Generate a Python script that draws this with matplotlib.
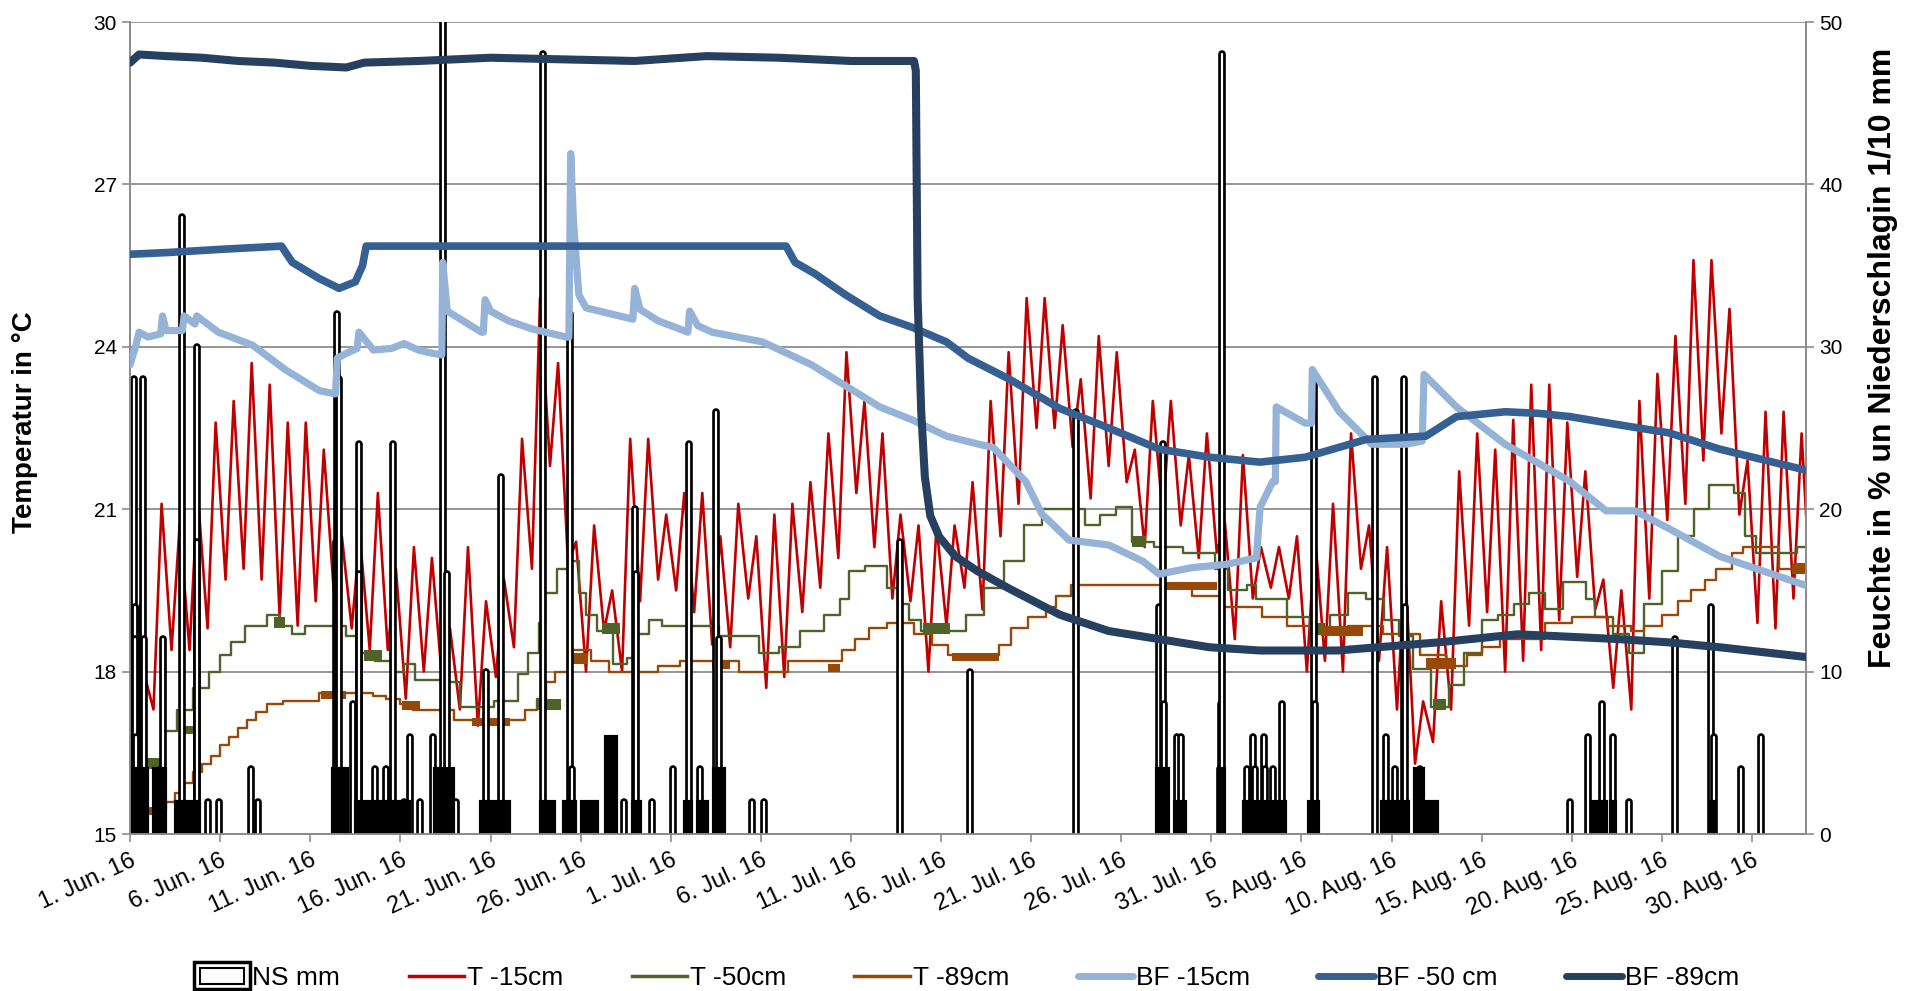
import matplotlib
matplotlib.use("Agg")
import matplotlib.pyplot as plt
import numpy as np
from matplotlib.collections import LineCollection
from matplotlib.lines import Line2D
from matplotlib.patches import Rectangle, Patch
from matplotlib.legend_handler import HandlerBase

plt.rcParams['font.family'] = ['Liberation Sans', 'DejaVu Sans']

# x values are days since 1 Jun 2016 00:00
tick_days = list(range(0, 91, 5))
tick_labels = ['1. Jun. 16', '6. Jun. 16', '11. Jun. 16', '16. Jun. 16', '21. Jun. 16',
               '26. Jun. 16', '1. Jul. 16', '6. Jul. 16', '11. Jul. 16', '16. Jul. 16',
               '21. Jul. 16', '26. Jul. 16', '31. Jul. 16', '5. Aug. 16', '10. Aug. 16',
               '15. Aug. 16', '20. Aug. 16', '25. Aug. 16', '30. Aug. 16']

# T -15cm: daily minimum (early morning) and maximum (afternoon)
t15_min = [17.0, 17.3, 18.4, 18.4, 18.8, 19.7, 19.9, 19.7, 19.0, 18.85,
           19.3, 19.5, 18.8, 18.4, 18.4, 17.5, 18.0, 17.9, 17.3, 17.0,
           17.9, 18.45, 19.9, 21.8, 20.0, 18.0, 18.75, 18.0, 19.3, 19.7,
           19.5, 19.1, 18.5, 18.45, 19.35, 17.7, 17.9, 19.1, 19.55, 20.1,
           21.3, 20.3, 19.35, 19.3, 18.0, 18.85, 19.55, 19.15, 20.5, 21.1,
           22.5, 22.5, 22.15, 21.2, 21.8, 21.5, 20.3, 20.9, 20.7, 20.1,
           20.2, 18.6, 19.35, 19.55, 19.35, 18.0, 18.2, 18.0, 19.9, 18.2,
           17.3, 16.3, 16.7, 17.3, 18.85, 19.1, 18.0, 18.2, 18.4, 18.95,
           19.75, 19.15, 17.7, 17.3, 19.35, 20.8, 21.1, 21.9, 22.4, 20.9,
           18.9, 18.8, 19.35]
t15_max = [18.0, 21.1, 20.7, 21.3, 22.6, 23.0, 23.7, 23.3, 22.6, 22.6,
           22.1, 20.5, 20.5, 21.3, 19.9, 20.3, 20.1, 18.8, 20.3, 19.3,
           19.7, 22.3, 24.9, 23.7, 20.4, 20.7, 19.5, 22.3, 22.3, 20.9,
           21.3, 21.3, 20.5, 21.1, 20.5, 20.9, 21.1, 21.5, 22.4, 23.9,
           23.0, 22.4, 20.9, 20.7, 20.7, 20.7, 21.5, 23.0, 23.9, 24.9,
           24.9, 24.4, 23.4, 24.2, 23.9, 22.1, 23.0, 23.0, 22.0, 22.4,
           20.75, 22.0, 20.3, 20.3, 20.5, 20.5, 21.1, 22.4, 20.7, 20.3,
           19.9, 17.45, 19.3, 21.7, 22.4, 22.1, 22.65, 23.3, 23.3, 22.6,
           21.7, 19.7, 19.5, 23.0, 23.5, 24.2, 25.6, 25.6, 24.7, 21.9,
           22.8, 22.8, 22.4]
t15_start = 18.0
t15_end = 20.9

# T -50cm (step changes)
t50_day = [0, 1.8, 2.6, 3.5, 4.4, 5.0, 5.6, 6.4, 7.6, 8.3, 9.0, 9.7, 12.0, 12.6, 13.6,
           14.6, 15.2, 15.8, 17.6, 18.3, 20.2, 21.5, 22.1, 22.7, 23.0, 23.7, 24.3,
           24.9, 25.3, 25.9, 26.8, 27.6, 28.2, 28.8, 29.5, 32.7, 34.9, 36.0, 37.2,
           38.5, 39.4, 39.9, 40.8, 42.0, 42.6, 43.2, 43.9, 46.4, 47.4, 48.5, 49.6,
           50.6, 53.0, 53.8, 54.7, 55.6, 56.8, 58.4, 60.2, 60.9, 62.0, 62.5, 64.2,
           65.5, 66.6, 67.6, 68.6, 69.6, 70.4, 71.2, 72.2, 73.2, 74.0, 75.0, 75.9,
           76.8, 77.6, 78.5, 79.5, 80.8, 81.3, 82.3, 83.2, 84.0, 85.0, 85.9, 86.8,
           87.6, 89.0, 89.6, 90.2, 92.5, 93.0]
t50_val = [16.3, 16.9, 17.3, 17.7, 18.0, 18.3, 18.55, 18.85, 19.05, 18.85, 18.7, 18.85, 18.65,
           18.35, 18.2, 18.0, 18.15, 17.85, 17.8, 17.35, 17.45, 17.95, 18.35, 18.9, 19.45,
           19.9, 20.05, 19.45, 19.05, 18.75, 18.15, 18.25, 18.7, 18.95, 18.85, 18.65,
           18.35, 18.45, 18.75, 19.05, 19.35, 19.85, 19.95, 19.55, 19.25, 18.95, 18.75,
           19.05, 19.55, 20.05, 20.7, 21.0, 20.7, 20.9, 21.05, 20.4, 20.3, 20.2, 19.9,
           19.5, 19.6, 19.35, 19.0, 18.75, 19.05, 19.45, 19.35, 18.95, 18.65, 18.05,
           17.35, 17.75, 18.35, 18.95, 19.05, 19.25, 19.45, 19.15, 19.65, 19.35, 19.0,
           18.7, 18.35, 19.25, 19.85, 20.5, 21.0, 21.45, 21.3, 20.5, 20.2, 20.3, 20.3]
# spells where the -50cm sensor flickers between two adjacent steps
t50_band_start = [0.0, 2.9, 8.0, 13.0, 22.5, 26.2, 44.0, 55.6, 65.5, 72.3]
t50_band_end = [1.8, 3.9, 8.6, 14.0, 23.9, 27.2, 45.5, 56.4, 66.3, 73.0]
t50_band_lo = [16.2, 16.85, 18.8, 18.2, 17.3, 18.7, 18.7, 20.3, 18.7, 17.3]
t50_band_hi = [16.4, 17.0, 19.0, 18.4, 17.5, 18.9, 18.9, 20.5, 18.9, 17.5]

# T -89cm (step changes)
t89_day = [0, 2.0, 2.5, 3.0, 3.5, 4.0, 4.5, 5.0, 5.5, 6.0, 6.5, 7.0, 7.6, 8.5, 10.5,
           13.5, 14.2, 15.0, 15.7, 18.0, 21.9, 22.6, 23.1, 23.6, 24.3, 24.5, 25.6,
           26.6, 29.3, 30.5, 33.8, 36.5, 39.5, 40.2, 41.0, 42.0, 43.5, 44.5, 45.4,
           48.2, 48.9, 49.8, 50.8, 51.4, 52.2, 58.9, 60.5, 62.8, 64.2, 65.7, 67.6,
           69.5, 71.6, 73.0, 74.2, 75.0, 76.0, 78.5, 80.0, 82.0, 83.3, 84.0, 85.0,
           85.9, 86.6, 87.4, 88.0, 88.9, 89.5, 91.5, 93.0]
t89_val = [15.45, 15.6, 15.75, 15.95, 16.15, 16.3, 16.45, 16.65, 16.8, 16.95, 17.1, 17.25,
           17.4, 17.45, 17.6, 17.55, 17.5, 17.4, 17.3, 17.1, 17.3, 17.5, 17.8, 18.0, 18.2,
           18.4, 18.2, 18.0, 18.1, 18.2, 18.0, 18.2, 18.4, 18.6, 18.8, 18.9, 18.7, 18.5,
           18.3, 18.5, 18.8, 19.0, 19.2, 19.4, 19.6, 19.4, 19.2, 19.0, 18.85, 18.7, 18.85,
           18.7, 18.3, 18.1, 18.3, 18.45, 18.6, 18.9, 19.0, 18.85, 18.75, 18.85, 19.05,
           19.3, 19.5, 19.7, 19.9, 20.2, 20.3, 19.9, 19.85]
t89_band_start = [0.0, 10.6, 15.1, 19.0, 24.6, 32.3, 38.7, 45.6, 57.3, 66.1, 71.9, 92.2]
t89_band_end = [1.9, 12.0, 16.1, 21.1, 25.4, 33.3, 39.4, 48.2, 60.3, 68.4, 73.6, 93.0]
t89_band_lo = [15.35, 17.5, 17.3, 17.0, 18.15, 18.05, 18.0, 18.2, 19.5, 18.65, 18.05, 19.8]
t89_band_hi = [15.5, 17.65, 17.45, 17.15, 18.35, 18.2, 18.15, 18.35, 19.65, 18.85, 18.25, 20.0]

# soil moisture (right axis, %)
bf15_day = [0, 0.3, 0.5, 1.0, 1.7, 1.8, 2.0, 2.9, 3.0, 3.6, 3.7, 4.9, 6.8, 8.6, 10.5,
            11.4, 11.5, 12.0, 12.6, 12.7, 13.5, 14.5, 15.2, 16.0, 16.8, 17.3, 17.35,
            17.6, 19.5, 19.6, 19.7, 20.0, 21.0, 22.3, 24.2, 24.35, 24.45, 24.6, 24.9,
            25.3, 27.9, 28.0, 28.3, 29.3, 30.5, 30.95, 31.05, 31.5, 32.3, 35.1, 37.8,
            39.7, 41.6, 43.4, 45.3, 47.1, 47.9, 49.7, 50.6, 52.1, 54.3, 56.2, 57.1,
            58.9, 60.8, 62.5, 62.7, 63.4, 63.55, 63.6, 65.2, 65.55, 65.6, 67.1, 68.9,
            70.8, 71.7, 71.8, 73.6, 76.3, 78.2, 79.9, 81.9, 83.5, 85.4, 88.2, 93.0]
bf15_val = [28.9, 30.0, 30.9, 30.6, 30.8, 31.9, 31.0, 31.0, 31.9, 31.4, 31.9, 30.9, 30.1,
            28.6, 27.3, 27.1, 29.3, 29.6, 29.9, 30.9, 29.8, 29.9, 30.2, 29.8, 29.6, 29.5,
            35.2, 32.2, 30.9, 30.9, 32.9, 32.2, 31.6, 31.1, 30.6, 30.6, 41.9, 37.8, 33.2,
            32.4, 31.7, 33.6, 32.3, 31.6, 31.1, 30.9, 32.2, 31.3, 30.9, 30.3, 28.9, 27.6,
            26.3, 25.5, 24.5, 24.0, 23.8, 21.7, 19.7, 18.1, 17.8, 16.8, 16.0, 16.4, 16.6,
            17.0, 20.1, 21.7, 21.7, 26.3, 25.3, 25.3, 28.6, 26.0, 24.0, 24.0, 24.2, 28.3,
            26.3, 24.0, 22.8, 21.7, 19.9, 19.9, 18.8, 17.1, 15.3]

bf50_day = [0, 2, 5, 8.4, 9.0, 10.5, 11.6, 12.5, 12.9, 13.1, 20, 30, 36.4, 36.9, 38.0,
            39.7, 41.6, 43.4, 45.3, 46.5, 48.8, 51.6, 54.3, 57.1, 59.9, 62.7, 65.2,
            68.6, 71.9, 73.6, 76.3, 78.2, 79.9, 82.6, 85.4, 88.2, 93.0]
bf50_val = [35.7, 35.8, 36.0, 36.2, 35.2, 34.2, 33.6, 34.0, 35.0, 36.2, 36.2, 36.2, 36.2,
            35.2, 34.5, 33.2, 31.9, 31.2, 30.3, 29.3, 28.0, 26.2, 25.0, 23.7, 23.2, 22.9,
            23.2, 24.3, 24.5, 25.7, 26.0, 25.9, 25.7, 25.2, 24.7, 23.7, 22.4]

bf89_day = [0, 0.5, 2, 4, 6, 8, 10, 12, 13, 16, 20, 24, 28, 32, 36, 40, 43.5, 43.6,
            43.7, 43.9, 44.1, 44.4, 44.9, 45.8, 47.0, 48.8, 51.6, 54.3, 57.1, 59.9,
            62.7, 67.0, 72.6, 77.0, 82.6, 85.4, 88.2, 93.0]
bf89_val = [47.5, 48.0, 47.9, 47.8, 47.6, 47.5, 47.3, 47.2, 47.5, 47.6, 47.8, 47.7, 47.6,
            47.9, 47.8, 47.6, 47.6, 47.0, 33.0, 26.0, 22.0, 19.6, 18.3, 17.1, 16.2, 15.1,
            13.5, 12.5, 12.0, 11.5, 11.3, 11.3, 11.8, 12.3, 12.0, 11.8, 11.5, 10.9]

# precipitation (1/10 mm), single hourly bars
ns_day = [0.22, 0.25, 0.3, 0.35, 0.68, 0.72, 0.75, 1.7, 1.8, 2.9, 3.7, 3.72, 4.3, 4.95,
          6.7, 7.1, 11.4, 11.5, 11.6, 12.35, 12.7, 12.72, 13.6, 14.2, 14.6, 15.2, 15.55,
          16.1, 16.8, 17.35, 17.6, 18.1, 19.75, 20.6, 22.9, 24.4, 24.5, 27.4, 28.0, 28.05,
          28.95, 30.1, 31.0, 31.6, 32.5, 32.7, 34.5, 35.2, 42.7, 46.6, 52.5, 57.1, 57.3,
          57.35, 58.1, 58.3, 60.5, 60.55, 60.6, 62.0, 62.3, 62.4, 62.9, 63.0, 63.4, 63.9,
          65.7, 65.75, 69.1, 69.7, 70.2, 70.7, 70.72, 71.6, 79.9, 80.9, 81.7, 82.3, 83.2,
          85.7, 87.7, 87.9, 89.4, 90.5]
ns_val = [28, 14, 12, 6, 14, 28, 12, 4, 12, 38, 30, 18, 2, 2, 4, 2, 18, 32, 28, 8,
          24, 16, 4, 4, 24, 2, 6, 2, 6, 56, 16, 2, 10, 22, 48, 32, 4, 2, 20, 16,
          2, 4, 24, 4, 26, 12, 2, 2, 18, 10, 26, 14, 24, 8, 6, 6, 4, 8, 48, 4,
          6, 4, 6, 4, 4, 8, 28, 8, 28, 6, 4, 28, 14, 4, 2, 6, 8, 6, 2, 12,
          14, 6, 4, 6]
# longer rainy spells with a near constant hourly amount
run_start = [0.05, 1.35, 2.55, 3.25, 11.25, 12.55, 14.1, 16.9, 19.5, 22.8, 24.1, 25.1,
             26.4, 27.9, 30.8, 31.5, 32.4, 57.0, 58.0, 60.45, 61.8, 65.4, 69.45, 71.3,
             71.75, 81.1, 82.2, 87.65]
run_end = [0.95, 1.95, 3.1, 3.85, 12.05, 13.9, 15.5, 17.9, 21.0, 23.5, 24.7, 25.9,
           26.95, 28.3, 31.1, 32.0, 32.95, 57.6, 58.55, 60.7, 64.1, 65.9, 70.9, 71.75,
           72.5, 81.9, 82.4, 87.95]
run_val = [4, 4, 2, 2, 4, 2, 2, 4, 2, 2, 2, 2, 6, 2, 2, 2, 4, 4, 2, 4, 2, 2, 2, 4,
           2, 2, 2, 2]

c_t15 = '#C00000'
c_t50 = '#4F6228'
c_t89 = '#984807'
c_bf15 = '#95B3D7'
c_bf50 = '#376092'
c_bf89 = '#27405F'
grid_c = '#8C8C8C'

fig = plt.figure(figsize=(19.1, 9.91), dpi=100)
ax = fig.add_axes([0.0681, 0.1584, 0.8775, 0.8194])
ax2 = ax.twinx()

# temperature on the left axis
n = len(t15_min)
t15_x = np.concatenate([[0], np.column_stack([np.arange(n) + 0.3, np.arange(n) + 0.75]).ravel(), [n]])
t15_y = np.concatenate([[t15_start], np.column_stack([t15_min, t15_max]).ravel(), [t15_end]])
ax.plot(t15_x, t15_y, color=c_t15, lw=1.9, zorder=3)
ax.step(t50_day, t50_val, where='post', color=c_t50, lw=1.7, zorder=3)
ax.step(t89_day, t89_val, where='post', color=c_t89, lw=1.7, zorder=3)
for s, e, lo, hi in zip(t50_band_start, t50_band_end, t50_band_lo, t50_band_hi):
    ax.fill_between([s, e], lo, hi, color=c_t50, lw=0, zorder=3)
for s, e, lo, hi in zip(t89_band_start, t89_band_end, t89_band_lo, t89_band_hi):
    ax.fill_between([s, e], lo, hi, color=c_t89, lw=0, zorder=3)

ax.set_xlim(0, 93)
ax.set_ylim(15, 30)
ax.set_yticks(np.arange(15, 31, 3))
ax.set_xticks(tick_days)
ax.set_xticklabels(tick_labels, rotation=25, ha='right', rotation_mode='anchor')
ax.grid(axis='y', color=grid_c, lw=1.3)
ax.set_axisbelow(True)
ax.tick_params(axis='y', labelsize=15, color=grid_c, length=6, width=1.2)
ax.tick_params(axis='x', labelsize=17, color=grid_c, length=6, width=1.2, pad=5)

# precipitation bars and soil moisture on the right axis
order = np.argsort(ns_day)
segs, cols, lws = [], [], []
for i in order:
    segs.append([(ns_day[i], 0), (ns_day[i], ns_val[i])])
    cols.append('black')
    lws.append(5.5)
    segs.append([(ns_day[i], 0), (ns_day[i], ns_val[i])])
    cols.append('white')
    lws.append(1.6)
lc = LineCollection(segs, colors=cols, linewidths=lws, capstyle='round', zorder=2)
ax2.add_collection(lc)
widths = np.array(run_end) - np.array(run_start)
ax2.bar(run_start, run_val, width=widths, align='edge', color='black',
        edgecolor='black', linewidth=3, zorder=2.1)

for xs, ys, c, w in [(bf15_day, bf15_val, c_bf15, 5.2),
                     (bf50_day, bf50_val, c_bf50, 5.5),
                     (bf89_day, bf89_val, c_bf89, 5.8)]:
    ax2.plot(xs, ys, color=c, lw=w, solid_capstyle='round', solid_joinstyle='round', zorder=3)

ax2.set_ylim(0, 50)
ax2.set_yticks(np.arange(0, 51, 10))
ax2.tick_params(axis='y', labelsize=15, color=grid_c, length=6, width=1.2)

for a in (ax, ax2):
    for s in ('left', 'right', 'bottom'):
        a.spines[s].set_color(grid_c)
        a.spines[s].set_linewidth(1.3)
    a.spines['top'].set_visible(False)

ax.set_ylabel('Temperatur in °C', fontsize=20, fontweight='bold')
ax.yaxis.set_label_coords(-0.055, 0.507)
ax2.set_ylabel('Feuchte in % un Niederschlagin 1/10 mm', fontsize=23, fontweight='bold')
ax2.yaxis.set_label_coords(1.037, 0.586)


class NSHandler(HandlerBase):
    def create_artists(self, legend, orig_handle, xdescent, ydescent, width, height, fontsize, trans):
        x0, y0 = -xdescent, -ydescent - 3
        h = height + 6
        outer = Rectangle((x0, y0), width, h, fc='white', ec='black', lw=2.5, transform=trans)
        inner = Rectangle((x0 + 4, y0 + 4), width - 8, h - 8, fc='white', ec='black', lw=1.5,
                          transform=trans)
        return [outer, inner]


ns_handle = Patch(fc='white', ec='black')
handles = [ns_handle,
           Line2D([], [], color=c_t15, lw=2.5),
           Line2D([], [], color=c_t50, lw=2.5),
           Line2D([], [], color=c_t89, lw=2.5),
           Line2D([], [], color=c_bf15, lw=5, solid_capstyle='round'),
           Line2D([], [], color=c_bf50, lw=5, solid_capstyle='round'),
           Line2D([], [], color=c_bf89, lw=5, solid_capstyle='round')]
labels = ['NS mm', 'T -15cm', 'T -50cm', 'T -89cm', 'BF -15cm', 'BF -50 cm', 'BF -89cm']
fig.legend(handles, labels, handler_map={Patch: NSHandler()}, loc='center',
           bbox_to_anchor=(0.506, 0.013), ncol=7, frameon=False, fontsize=19,
           handlelength=2.1, handletextpad=0.1, columnspacing=2.6)

fig.savefig('out.png', dpi=100)
